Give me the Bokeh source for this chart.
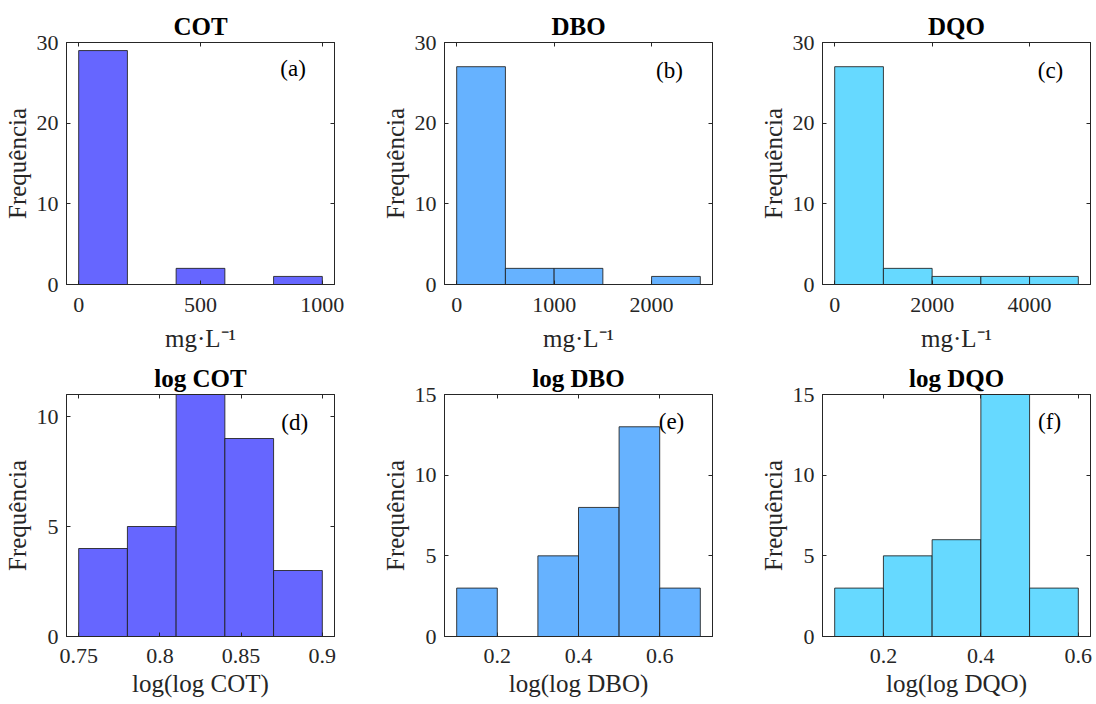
from bokeh.plotting import figure
from bokeh.layouts import column, row
from bokeh.models import LinearAxis, FixedTicker, CustomJSTickFormatter, Range1d, Label
from bokeh.embed import file_html
from bokeh.resources import INLINE

# ---- data (histogram bin edges and counts) ----
cot_edges = [0, 200, 400, 600, 800, 1000]
cot_counts = [29, 0, 2, 0, 1]
dbo_edges = [0, 500, 1000, 1500, 2000, 2500]
dbo_counts = [27, 2, 2, 0, 1]
dqo_edges = [0, 1000, 2000, 3000, 4000, 5000]
dqo_counts = [27, 2, 1, 1, 1]
logcot_edges = [0.75, 0.78, 0.81, 0.84, 0.87, 0.90]
logcot_counts = [4, 5, 11, 9, 3]
logdbo_edges = [0.1, 0.2, 0.3, 0.4, 0.5, 0.6, 0.7]
logdbo_counts = [3, 0, 5, 8, 13, 3]
logdqo_edges = [0.1, 0.2, 0.3, 0.4, 0.5, 0.6]
logdqo_counts = [3, 5, 6, 15, 3]

titles = ["COT", "DBO", "DQO", "log COT", "log DBO", "log DQO"]
xlabels = ["mg·L⁻¹", "mg·L⁻¹", "mg·L⁻¹", "log(log COT)", "log(log DBO)", "log(log DQO)"]
tags = ["(a)", "(b)", "(c)", "(d)", "(e)", "(f)"]
xticks = [[0, 500, 1000], [0, 1000, 2000], [0, 2000, 4000],
          [0.75, 0.8, 0.85, 0.9], [0.2, 0.4, 0.6], [0.2, 0.4, 0.6]]
yticks = [[0, 10, 20, 30], [0, 10, 20, 30], [0, 10, 20, 30],
          [0, 5, 10], [0, 5, 10, 15], [0, 5, 10, 15]]
xranges = [(-50, 1050), (-125, 2625), (-250, 5250),
           (0.7425, 0.9075), (0.07, 0.73), (0.075, 0.625)]
yranges = [(0, 30), (0, 30), (0, 30), (0, 11), (0, 15), (0, 15)]
tag_pos = [(880, 26.8), (2184, 26.5), (4429, 26.5),
           (0.883, 9.73), (0.629, 13.3), (0.541, 13.3)]
colors = ["#6666FF", "#66B2FF", "#66D9FF"]

all_edges = [cot_edges, dbo_edges, dqo_edges, logcot_edges, logdbo_edges, logdqo_edges]
all_counts = [cot_counts, dbo_counts, dqo_counts, logcot_counts, logdbo_counts, logdqo_counts]

FONT = "Liberation Serif"
AX = "#262626"
fmt_code = "return parseFloat(tick.toFixed(6)).toString();"

FW, FH = 268, 242
col_l = [61, 61, 61]
col_r = [44, 44, 5]
row_t = [42, 32]
row_b = [75, 68]
tick_standoff = [13, 12]
label_standoff = [10, 4]


def style_axis(ax, ticks, show_labels):
    ax.ticker = FixedTicker(ticks=ticks)
    ax.formatter = CustomJSTickFormatter(code=fmt_code)
    ax.major_tick_in = 4
    ax.major_tick_out = 0
    ax.minor_tick_line_color = None
    ax.axis_line_color = AX
    ax.major_tick_line_color = AX
    if show_labels:
        ax.major_label_text_font = FONT
        ax.major_label_text_font_size = "22px"
        ax.major_label_text_color = AX
    else:
        ax.major_label_text_font_size = "1px"
        ax.major_label_text_color = None
        ax.major_label_standoff = 0


figs = []
for i in range(6):
    r, c = divmod(i, 3)
    p = figure(frame_width=FW, frame_height=FH, output_backend="svg",
               toolbar_location=None,
               x_range=Range1d(*xranges[i]), y_range=Range1d(*yranges[i]),
               min_border_left=col_l[c], min_border_right=col_r[c],
               min_border_top=row_t[r], min_border_bottom=row_b[r],
               background_fill_color="white", border_fill_color="white")
    p.grid.visible = False
    p.outline_line_color = AX
    p.outline_line_width = 1

    e = all_edges[i]
    p.quad(left=e[:-1], right=e[1:], top=all_counts[i], bottom=0,
           fill_color=colors[c], fill_alpha=1.0,
           line_color="#1f1f1f", line_alpha=0.85, line_width=1)

    xa = p.xaxis[0]
    ya = p.yaxis[0]
    style_axis(xa, xticks[i], True)
    style_axis(ya, yticks[i], True)
    xa.major_label_standoff = tick_standoff[r]
    ya.major_label_standoff = 8
    xa.axis_label = xlabels[i]
    ya.axis_label = "Frequência"
    for ax in (xa, ya):
        ax.axis_label_text_font = FONT
        ax.axis_label_text_font_size = "25px"
        ax.axis_label_text_font_style = "normal"
        ax.axis_label_text_color = AX
    xa.axis_label_standoff = label_standoff[r]
    ya.axis_label_standoff = 3

    top = LinearAxis()
    style_axis(top, xticks[i], False)
    p.add_layout(top, "above")
    rt = LinearAxis()
    style_axis(rt, yticks[i], False)
    p.add_layout(rt, "right")

    p.title.text = titles[i]
    p.title.text_font = FONT
    p.title.text_font_size = "25px"
    p.title.text_font_style = "bold"
    p.title.text_color = "black"
    p.title.align = "center"
    p.title.standoff = 6

    tx, ty = tag_pos[i]
    p.add_layout(Label(x=tx, y=ty, text=tags[i], text_font=FONT,
                       text_font_size="23px", text_color="black",
                       text_align="center", text_baseline="middle"))
    figs.append(p)

layout = column(row(*figs[:3]), row(*figs[3:]))
open("out.html", "w").write(file_html(layout, INLINE))
